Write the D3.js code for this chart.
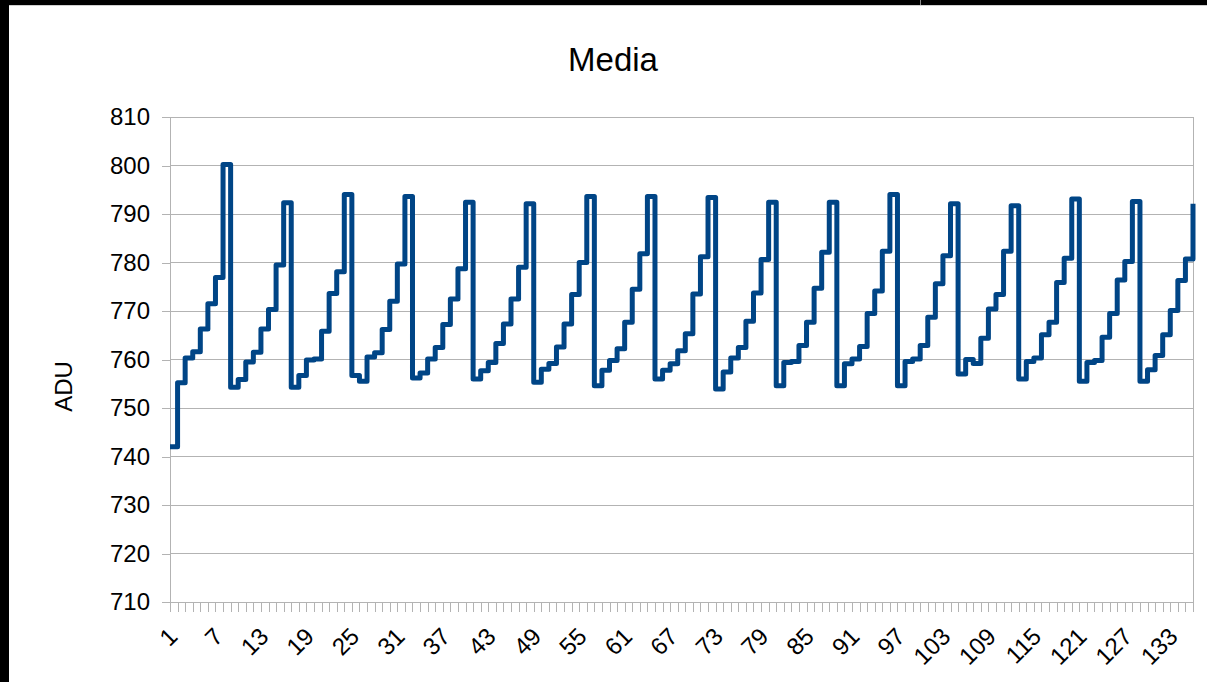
<!DOCTYPE html>
<html>
<head>
<meta charset="utf-8">
<script src="https://cdn.jsdelivr.net/npm/d3@7"></script>
<style>
  html, body { margin: 0; padding: 0; background: #ffffff; }
  svg { display: block; font-family: "Liberation Sans", Arial, sans-serif; }
</style>
</head>
<body>
<svg id="chart" width="1207" height="682"></svg>
<script>
// Mean ADU per frame (1..136)
const frames = d3.range(1, 137);
const mediaADU = [
  742.0, 755.2, 760.3, 761.6, 766.3, 771.5, 776.9, 800.2,
  754.3, 755.9, 759.5, 761.5, 766.3, 770.3, 779.5, 792.3,
  754.3, 756.7, 759.9, 760.1, 765.8, 773.6, 778.1, 794.0,
  756.7, 755.5, 760.5, 761.4, 766.2, 772.0, 779.7, 793.6,
  756.2, 757.2, 760.1, 762.5, 767.2, 772.5, 778.7, 792.4,
  756.0, 757.7, 759.4, 763.3, 767.3, 772.5, 779.0, 792.1,
  755.3, 758.0, 759.2, 762.6, 767.3, 773.4, 780.0, 793.6,
  754.6, 757.8, 759.8, 762.2, 767.7, 774.5, 781.8, 793.6,
  756.0, 757.8, 759.1, 761.8, 765.3, 773.5, 781.2, 793.4,
  753.9, 757.4, 760.3, 762.5, 767.9, 773.7, 780.6, 792.4,
  754.6, 759.4, 759.6, 762.9, 767.7, 774.7, 782.1, 792.4,
  754.6, 759.1, 760.1, 762.7, 769.5, 774.1, 782.3, 794.0,
  754.6, 759.6, 760.1, 762.9, 768.7, 775.6, 781.4, 792.1,
  757.0, 760.0, 759.2, 764.4, 770.4, 773.4, 782.3, 791.7,
  756.0, 759.6, 760.3, 765.1, 767.7, 775.9, 780.9, 793.1,
  755.5, 759.4, 759.8, 764.6, 769.5, 776.4, 780.2, 792.6,
  755.5, 757.9, 760.8, 765.1, 770.1, 776.3, 780.7, 792.1
];
const yTicks = [710, 720, 730, 740, 750, 760, 770, 780, 790, 800, 810];
const xLabels = d3.range(1, 137, 6);   // 1, 7, 13, ... 133
const chartTitle = "Media";
const yTitle = "ADU";

const svg = d3.select("#chart");
const W = 1207, H = 682;
const plot = { left: 170, right: 1193, top: 117, bottom: 602 };
const gridColor = "#b3b3b3";
const lineColor = "#004586";

// window frame
svg.append("rect").attr("x", 0).attr("y", 0).attr("width", W).attr("height", H).attr("fill", "#ffffff");
svg.append("rect").attr("x", 0).attr("y", 0).attr("width", W).attr("height", 5).attr("fill", "#000000");
svg.append("rect").attr("x", 0).attr("y", 0).attr("width", 9).attr("height", H).attr("fill", "#000000");
svg.append("rect").attr("x", 920).attr("y", 0).attr("width", 1).attr("height", 5).attr("fill", "#8a8a8a");
svg.append("rect").attr("x", 9).attr("y", 5).attr("width", W - 9).attr("height", 1).attr("fill", "#d0d0d0");

const x = d3.scalePoint().domain(frames).range([plot.left, plot.right]);
const y = d3.scaleLinear().domain([710, 810]).range([plot.bottom, plot.top]);

// horizontal grid
svg.append("g")
  .selectAll("line").data(yTicks).join("line")
  .attr("x1", plot.left).attr("x2", plot.right)
  .attr("y1", d => y(d)).attr("y2", d => y(d))
  .attr("stroke", gridColor).attr("stroke-width", 1)
  .attr("shape-rendering", "crispEdges");

// y axis
const yAxis = svg.append("g")
  .attr("transform", `translate(${plot.left},0)`)
  .call(d3.axisLeft(y).tickValues(yTicks).tickSize(8).tickPadding(12).tickFormat(d3.format("d")));
yAxis.select(".domain").attr("stroke", gridColor).attr("shape-rendering", "crispEdges");
yAxis.selectAll(".tick line").attr("stroke", gridColor).attr("shape-rendering", "crispEdges");
yAxis.selectAll(".tick text")
  .attr("font-size", 24).attr("fill", "#000").attr("font-family", "Liberation Sans, Arial, sans-serif");

// x axis: a tick per frame, labels every sixth frame
const xAxis = svg.append("g")
  .attr("transform", `translate(0,${plot.bottom})`)
  .call(d3.axisBottom(x).tickValues(frames).tickSize(10).tickFormat(""));
xAxis.select(".domain").attr("stroke", gridColor).attr("shape-rendering", "crispEdges");
xAxis.selectAll(".tick line").attr("stroke", gridColor).attr("shape-rendering", "crispEdges");

svg.append("g")
  .selectAll("text").data(xLabels).join("text")
  .attr("transform", d => `translate(${x(d) + 3},${plot.bottom + 30}) rotate(-45)`)
  .attr("text-anchor", "end")
  .attr("dy", "0.35em")
  .attr("font-size", 24)
  .attr("fill", "#000")
  .text(d => d);

// right border of the plot area
svg.append("line")
  .attr("x1", plot.right).attr("x2", plot.right)
  .attr("y1", plot.top).attr("y2", plot.bottom + 10)
  .attr("stroke", gridColor).attr("shape-rendering", "crispEdges");

// series
const line = d3.line()
  .x((d, i) => x(frames[i]))
  .y(d => y(d))
  .curve(d3.curveStepAfter);

svg.append("path")
  .datum(mediaADU)
  .attr("d", line)
  .attr("fill", "none")
  .attr("stroke", lineColor)
  .attr("stroke-width", 5)
  .attr("stroke-linejoin", "round");

// titles
svg.append("text")
  .attr("x", 613).attr("y", 71)
  .attr("text-anchor", "middle")
  .attr("font-size", 33)
  .attr("fill", "#000")
  .text(chartTitle);

svg.append("text")
  .attr("transform", `translate(72,${(plot.top + plot.bottom) / 2 + 27}) rotate(-90)`)
  .attr("text-anchor", "middle")
  .attr("font-size", 24)
  .attr("fill", "#000")
  .text(yTitle);
</script>
</body>
</html>
